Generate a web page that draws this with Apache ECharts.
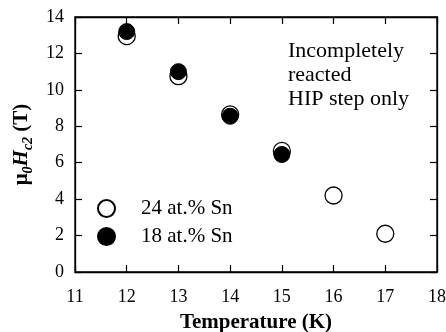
<!DOCTYPE html>
<html><head><meta charset="utf-8">
<script src="https://cdn.jsdelivr.net/npm/echarts@6/dist/echarts.min.js"></script>
<style>html,body{margin:0;padding:0;background:#fff}#c{width:446px;height:332px}</style>
</head><body><div id="c"></div>
<script>
const tempsA = [12, 13, 14, 15, 16, 17];
const hc2A = [12.95, 10.75, 8.65, 6.65, 4.2, 2.1];
const tempsB = [12, 13, 14, 15];
const hc2B = [13.2, 11.0, 8.55, 6.45];
const seriesNames = ['24 at.% Sn', '18 at.% Sn'];
const annotation = ['Incompletely', 'reacted', 'HIP step only'];

const font = '"Liberation Serif", "Times New Roman", serif';
const chart = echarts.init(document.getElementById('c'));
function ax(extra) {
  return Object.assign({
    type: 'value',
    axisLine: {show: true, onZero: false, lineStyle: {color: '#000', width: 1.3}},
    axisTick: {show: true, inside: true, length: 7, lineStyle: {color: '#000', width: 1.2}},
    splitLine: {show: false}
  }, extra);
}
chart.setOption({
  animation: false,
  backgroundColor: '#fff',
  grid: {left: 75, right: 9, top: 17, bottom: 60, outerBoundsMode: 'none', containLabel: false,
         show: true, borderColor: '#000', borderWidth: 1.3, backgroundColor: 'transparent'},
  xAxis: [
    ax({
      min: 11, max: 18, interval: 1, position: 'bottom',
      axisLabel: {color: '#000', fontFamily: font, fontSize: 18, margin: 16},
      name: 'Temperature (K)', nameLocation: 'middle', nameGap: 40,
      nameTextStyle: {color: '#000', fontFamily: font, fontSize: 21, fontWeight: 'bold'}
    }),
    ax({min: 11, max: 18, interval: 1, position: 'top', axisLabel: {show: false}})
  ],
  yAxis: [
    ax({
      min: 0, max: 14, interval: 2, position: 'left',
      axisLabel: {color: '#000', fontFamily: font, fontSize: 18, margin: 11},
      name: '{b|μ}{s|0}{i|H}{s|c2}{b| (T)}', nameLocation: 'middle', nameGap: 40, nameRotate: 90,
      nameTextStyle: {
        color: '#000', fontFamily: font, fontSize: 21, fontWeight: 'bold',
        rich: {
          b: {fontFamily: font, fontSize: 21, fontWeight: 'bold', color: '#000', lineHeight: 26},
          i: {fontFamily: font, fontSize: 21, fontWeight: 'bold', fontStyle: 'italic', color: '#000', lineHeight: 26},
          s: {fontFamily: font, fontSize: 14, fontWeight: 'bold', fontStyle: 'italic', color: '#000', lineHeight: 26, verticalAlign: 'bottom', padding: [8, 0, 0, 0]}
        }
      }
    }),
    ax({min: 0, max: 14, interval: 2, position: 'right', axisLabel: {show: false}})
  ],
  legend: {
    orient: 'vertical', left: 92, top: 193, itemWidth: 17, itemHeight: 17, itemGap: 7,
    icon: 'circle',
    data: seriesNames,
    textStyle: {color: '#000', fontFamily: font, fontSize: 21, padding: [0, 0, 0, 21]}
  },
  series: [
    {
      name: seriesNames[0], type: 'scatter', symbol: 'circle', symbolSize: 17, xAxisIndex: 0, yAxisIndex: 0,
      data: tempsA.map((t, i) => [t, hc2A[i]]),
      itemStyle: {color: '#fff', borderColor: '#000', borderWidth: 1.3, opacity: 1}
    },
    {
      name: seriesNames[1], type: 'scatter', symbol: 'circle', symbolSize: 16, xAxisIndex: 0, yAxisIndex: 0,
      data: tempsB.map((t, i) => [t, hc2B[i]]),
      itemStyle: {color: '#000', borderColor: '#000', borderWidth: 1, opacity: 1}
    }
  ],
  graphic: [{
    type: 'text', left: 288, top: 39,
    style: {text: annotation.join('\n'), fontFamily: font, fontSize: 22, lineHeight: 24, fill: '#000'}
  }]
});
</script></body></html>
